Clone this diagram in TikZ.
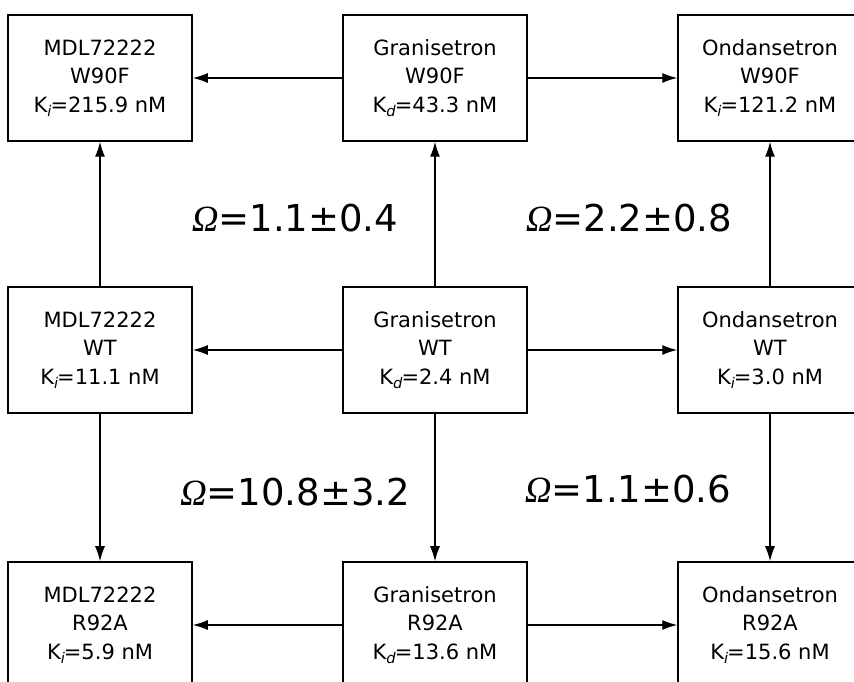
\documentclass[tikz,border=0pt]{standalone}
\usepackage{fontspec}
\setmainfont{DejaVu Sans}
\newfontfamily\omegafont{Liberation Serif}
\usetikzlibrary{arrows.meta,positioning}
\tikzset{
block/.style = {draw, fill=white, rectangle, line width=1.5pt, minimum width=184pt, minimum height=126pt, inner sep=0pt, align=center, font=\fontsize{21}{28.5}\selectfont},
omega/.style = {font=\fontsize{37}{40}\selectfont},
conn/.style = {->, line width=1.3pt}
}
\newcommand{\Ki}{K\textsubscript{\textit{i}}\kern-1.5pt}
\newcommand{\Kd}{K\textsubscript{\textit{d}}\kern-1.5pt}
\newcommand{\Om}[1]{{\omegafont\itshape Ω}=#1}

\begin{document}
\begin{tikzpicture}[auto, node distance=335pt, >={Latex[length=15pt,width=10pt]}]
	\useasboundingbox (0,0) rectangle (854pt,682pt);
	\clip (0,0) rectangle (854pt,682pt);
	% middle row
	\node[block] (granwt) at (435pt,332pt) {Granisetron\\WT\\\Kd=2.4 nM};
	\node[block, left of=granwt] (mdlwt) {MDL72222\\WT\\\Ki=11.1 nM};
	\node[block, right of=granwt] (ondwt) {Ondansetron\\WT\\\Ki=3.0 nM};
	% top row
	\node[block, above of=mdlwt, node distance=272pt] (mdlw) {MDL72222\\W90F\\\Ki=215.9 nM};
	\node[block, above of=granwt, node distance=272pt] (granw) {Granisetron\\W90F\\\Kd=43.3 nM};
	\node[block, above of=ondwt, node distance=272pt] (ondw) {Ondansetron\\W90F\\\Ki=121.2 nM};
	% bottom row
	\node[block, below of=mdlwt, node distance=275pt] (mdlr) {MDL72222\\R92A\\\Ki=5.9 nM};
	\node[block, below of=granwt, node distance=275pt] (granr) {Granisetron\\R92A\\\Kd=13.6 nM};
	\node[block, below of=ondwt, node distance=275pt] (ondr) {Ondansetron\\R92A\\\Ki=15.6 nM};
	% horizontal
	\draw[conn] (granw) -- (mdlw);
	\draw[conn] (granw) -- (ondw);
	\draw[conn] (granwt) -- (mdlwt);
	\draw[conn] (granwt) -- (ondwt);
	\draw[conn] (granr) -- (mdlr);
	\draw[conn] (granr) -- (ondr);
	% vertical
	\draw[conn] (mdlwt) -- (mdlw);
	\draw[conn] (granwt) -- (granw);
	\draw[conn] (ondwt) -- (ondw);
	\draw[conn] (mdlwt) -- (mdlr);
	\draw[conn] (granwt) -- (granr);
	\draw[conn] (ondwt) -- (ondr);
	% cooperativity
	\node[omega] (om1) at (295pt,464pt) {\Om{1.1±0.4}};
	\node[omega] (om2) at (629pt,464pt) {\Om{2.2±0.8}};
	\node[omega] (om3) at (295pt,190pt) {\Om{10.8±3.2}};
	\node[omega] (om4) at (628pt,193pt) {\Om{1.1±0.6}};
\end{tikzpicture}
\end{document}
